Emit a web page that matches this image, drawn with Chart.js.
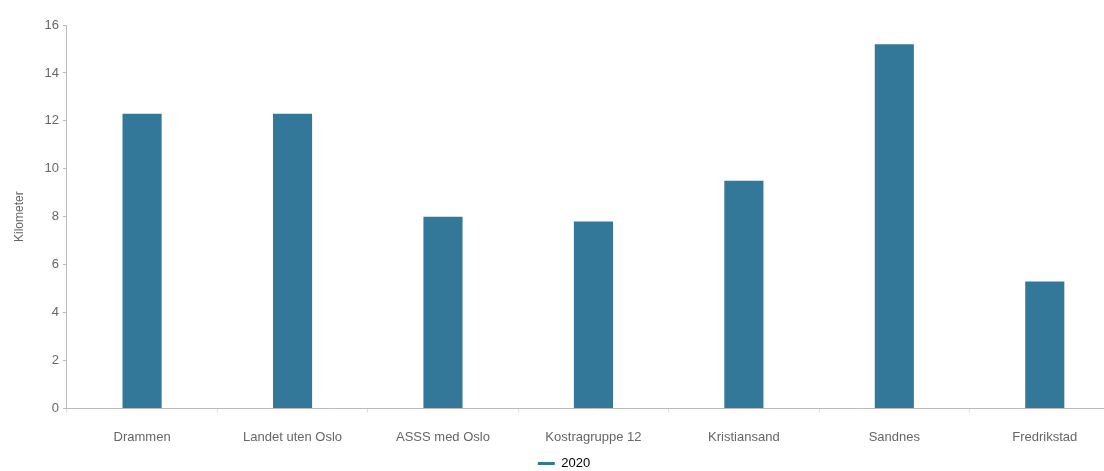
<!DOCTYPE html>
<html>
<head>
<meta charset="utf-8">
<script src="https://cdn.jsdelivr.net/npm/chart.js@4.4.1/dist/chart.umd.min.js"></script>
<style>
  html, body { margin: 0; padding: 0; background: #fff; overflow: hidden; }
  #wrap { width: 1120px; height: 471px; }
</style>
</head>
<body>
<div id="wrap"><canvas id="chart"></canvas></div>
<script>
// categories and values (kilometer, 2020)
const categories = ["Drammen", "Landet uten Oslo", "ASSS med Oslo", "Kostragruppe 12", "Kristiansand", "Sandnes", "Fredrikstad"];
const values2020 = [12.3, 12.3, 8.0, 7.8, 9.5, 15.2, 5.3];
const seriesName = "2020";
const yTitle = "Kilometer";

const barColor = "#337899";
const textColor = "#666";

Chart.defaults.font.family = "'Liberation Sans', Arial, sans-serif";
Chart.defaults.color = textColor;

const ctx = document.getElementById("chart").getContext("2d");
new Chart(ctx, {
  type: "bar",
  data: {
    labels: categories,
    datasets: [{
      label: seriesName,
      data: values2020,
      backgroundColor: barColor,
      borderColor: barColor,
      borderWidth: 0,
      barPercentage: 0.26,
      categoryPercentage: 1
    }]
  },
  options: {
    responsive: true,
    maintainAspectRatio: false,
    animation: false,
    layout: { padding: { top: 25, left: 8, right: 0, bottom: -9 } },
    plugins: {
      tooltip: { enabled: false },
      legend: {
        position: "bottom",
        labels: {
          font: { size: 13 },
          color: textColor,
          boxWidth: 17,
          boxHeight: 3,
          padding: 0,
          generateLabels: chart => [{
            text: seriesName,
            fillStyle: barColor,
            strokeStyle: barColor,
            lineWidth: 0,
            datasetIndex: 0
          }]
        }
      }
    },
    scales: {
      x: {
        grid: { display: true, drawOnChartArea: false, offset: true, tickLength: 4, color: "#ddd" },
        border: { display: true, color: "#bbb" },
        ticks: { font: { size: 13 }, color: textColor, padding: 17, maxRotation: 0 },
        afterFit: axis => { axis.height -= 5; } // pull the legend a bit closer to the labels
      },
      y: {
        min: 0,
        max: 16,
        ticks: { stepSize: 2, font: { size: 13 }, color: textColor, padding: 4 },
        grid: { display: true, drawOnChartArea: false, tickLength: 4, color: "#bbb" },
        border: { display: true, color: "#bbb" },
        title: { display: true, text: yTitle, font: { size: 12 }, color: textColor, padding: { bottom: 14 } }
      }
    }
  }
});
</script>
</body>
</html>
